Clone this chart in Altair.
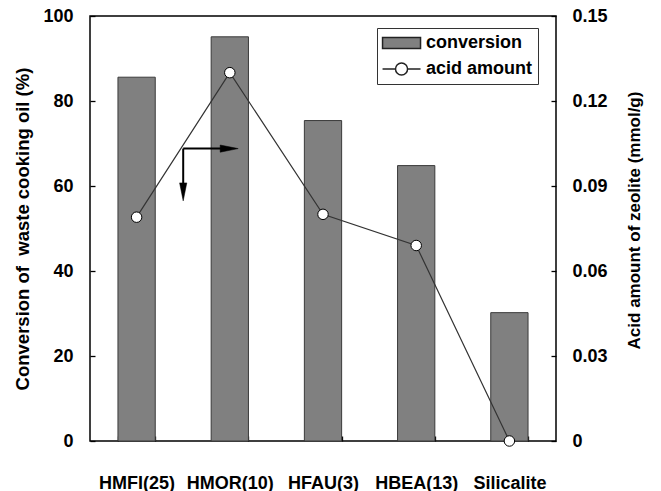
import altair as alt
import pandas as pd

# --- data -------------------------------------------------------------
catalysts = ["HMFI(25)", "HMOR(10)", "HFAU(3)", "HBEA(13)", "Silicalite"]
conversion = [85.6, 95.1, 75.4, 64.8, 30.2]          # %
acid_amount = [0.079, 0.130, 0.080, 0.069, 0.0]       # mmol/g

series_names = ["conversion", "acid amount"]

# annotation arrows, in category-slot units (x) and conversion % (y)
arrow_origin = (1.0, 68.8)
arrow_h_tip = (1.59, 68.8)
arrow_v_tip = (1.0, 56.5)
arrow_h_shaft_end = 1.45
arrow_v_shaft_end = 60.0

FONT = "Liberation Sans"

bars_df = pd.DataFrame({"catalyst": catalysts, "conversion": conversion})
acid_df = pd.DataFrame({"catalyst": catalysts, "acid": acid_amount})
shaft_df = pd.DataFrame({
    "x": [arrow_origin[0], arrow_origin[0]],
    "y": [arrow_origin[1], arrow_origin[1]],
    "x2": [arrow_h_shaft_end, arrow_origin[0]],
    "y2": [arrow_origin[1], arrow_v_shaft_end],
})
head_h_df = pd.DataFrame({"x": [arrow_h_tip[0]], "y": [arrow_h_tip[1]]})
head_v_df = pd.DataFrame({"x": [arrow_v_tip[0]], "y": [arrow_v_tip[1]]})
legend_df = pd.DataFrame({"series": series_names})

# --- scales -----------------------------------------------------------
conv_scale = alt.Scale(domain=[0, 100], nice=False, zero=True)
acid_scale = alt.Scale(domain=[0, 0.15], nice=False, zero=True)
slot_scale = alt.Scale(domain=[0, 5], nice=False, zero=False)

# --- bars: conversion -------------------------------------------------
bars = alt.Chart(bars_df).mark_bar(
    fill="#808080", stroke="#3a3a3a", strokeWidth=1
).encode(
    x=alt.X(
        "catalyst:N", sort=catalysts,
        scale=alt.Scale(type="band", paddingInner=0.6, paddingOuter=0.3),
        axis=alt.Axis(
            title=None, labelAngle=0, tickBand="extent", domain=False,
            offset=-5, tickSize=5, labelPadding=33, labelOverlap=False,
            labelBound=False,
        ),
    ),
    y=alt.Y(
        "conversion:Q", scale=conv_scale,
        axis=alt.Axis(
            values=[0, 20, 40, 60, 80, 100],
            title="Conversion of\u00a0 waste cooking oil (%)",
            titleFontSize=18.5,
            domain=False, offset=-5, tickSize=5, labelPadding=17,
            titlePadding=10, grid=False,
        ),
    ),
)

# --- arrows -----------------------------------------------------------
shafts = alt.Chart(shaft_df).mark_rule(color="black", strokeWidth=2).encode(
    x=alt.X("x:Q", scale=slot_scale, axis=None),
    y=alt.Y("y:Q", scale=conv_scale, axis=None),
    x2="x2:Q",
    y2="y2:Q",
)
head_h = alt.Chart(head_h_df).mark_point(
    shape="M0,0L-4,-0.8L-4,0.8Z", size=81, filled=True,
    fill="black", stroke="black", strokeWidth=0.5, opacity=1,
).encode(
    x=alt.X("x:Q", scale=slot_scale, axis=None),
    y=alt.Y("y:Q", scale=conv_scale, axis=None),
)
head_v = alt.Chart(head_v_df).mark_point(
    shape="M0,0L-0.8,-4L0.8,-4Z", size=81, filled=True,
    fill="black", stroke="black", strokeWidth=0.5, opacity=1,
).encode(
    x=alt.X("x:Q", scale=slot_scale, axis=None),
    y=alt.Y("y:Q", scale=conv_scale, axis=None),
)

# --- line + markers: acid amount (right axis) --------------------------
acid_x = alt.X("catalyst:N", sort=catalysts,
               scale=alt.Scale(type="point", padding=0.5), axis=None)

line = alt.Chart(acid_df).mark_line(color="#333333", strokeWidth=1.2).encode(
    x=acid_x,
    y=alt.Y("acid:Q", scale=acid_scale, axis=None),
)
points = alt.Chart(acid_df).mark_point(
    shape="circle", filled=True, fill="white", stroke="black",
    strokeWidth=1, size=110, opacity=1,
).encode(
    x=acid_x,
    y=alt.Y(
        "acid:Q", scale=acid_scale,
        axis=alt.Axis(
            orient="right", values=[0, 0.03, 0.06, 0.09, 0.12, 0.15],
            labelExpr="datum.value == 0 ? '0' : format(datum.value, '.2f')",
            title="Acid amount of zeolite (mmol/g)", titleAngle=270,
            titleBaseline="top", titleY=204, domain=False, offset=-5,
            tickSize=5, labelPadding=16, titlePadding=19, grid=False,
        ),
    ),
)

# --- legend -------------------------------------------------------------
# bar swatch (filled rectangle)
rect_path = "M-1.05,-0.6H3.17V0.6H-1.05Z"
# line with an open marker; the circle is traced twice in opposite
# directions so its interior stays unfilled
line_circle_path = (
    "M-1.05,0H0.39M1.73,0H3.17"
    "M0.39,0A0.67,0.67 0 1,1 1.73,0A0.67,0.67 0 1,1 0.39,0Z"
    "M0.39,0A0.67,0.67 0 1,0 1.73,0A0.67,0.67 0 1,0 0.39,0Z"
)
legend_def = alt.Legend(
    title=None, orient="none", legendX=287, legendY=12,
    padding=5, strokeColor="#333333", fillColor="white", cornerRadius=0,
    symbolSize=324, labelOffset=24, rowPadding=7,
    labelExpr="datum.label + '\u00a0\u00a0\u00a0'",
    labelFont=FONT, labelFontSize=18, labelFontWeight="bold",
    labelColor="black",
)
legend_layer = alt.Chart(legend_df).transform_filter("false").mark_point(
    filled=True, fill="#808080", stroke="#222222", strokeWidth=1, opacity=1
).encode(
    shape=alt.Shape("series:N", sort=series_names,
                    scale=alt.Scale(domain=series_names,
                                    range=[rect_path, line_circle_path]),
                    legend=legend_def),
)

chart = alt.layer(
    bars, shafts, head_h, head_v, line, points, legend_layer
).resolve_scale(
    x="independent", y="independent"
).properties(
    width=466, height=425,
    autosize=alt.AutoSizeParams(type="none"),
    padding={"left": 90, "top": 16, "right": 105, "bottom": 50},
    background="white",
).configure_view(
    stroke="black", strokeWidth=1.5
).configure_axis(
    labelFont=FONT, labelFontSize=18, labelFontWeight="bold",
    labelColor="black", titleFont=FONT, titleFontSize=17,
    titleFontWeight="bold", titleColor="black",
    tickColor="black", tickWidth=1.3,
).configure_legend(
    symbolBaseFillColor="#808080", symbolBaseStrokeColor="#222222"
)

chart.save("out.html", embed_options={"renderer": "svg", "actions": False})
